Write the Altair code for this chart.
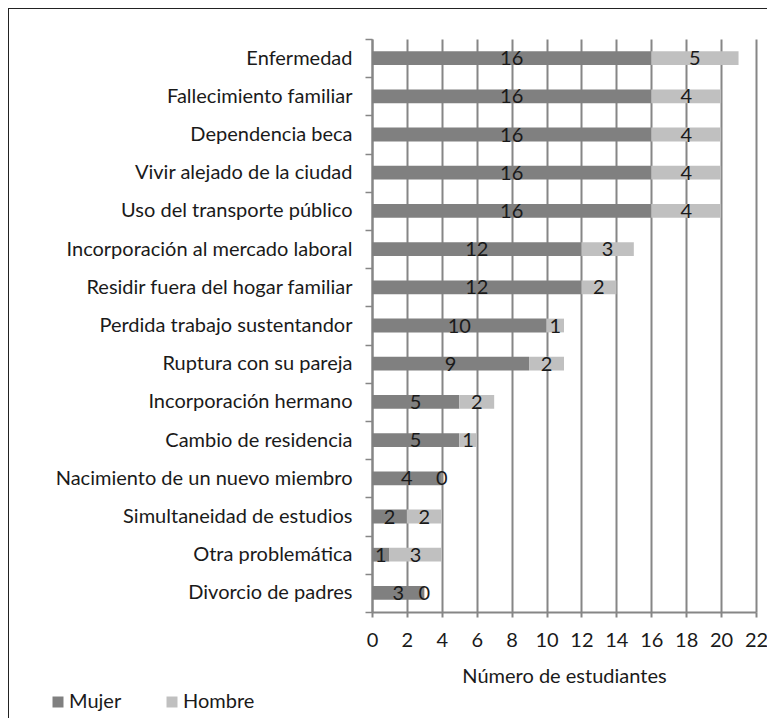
import altair as alt
import pandas as pd

categories = [
    "Enfermedad", "Fallecimiento familiar", "Dependencia beca",
    "Vivir alejado de la ciudad", "Uso del transporte público",
    "Incorporación al mercado laboral", "Residir fuera del hogar familiar",
    "Perdida trabajo sustentandor", "Ruptura con su pareja",
    "Incorporación hermano", "Cambio de residencia",
    "Nacimiento de un nuevo miembro", "Simultaneidad de estudios",
    "Otra problemática", "Divorcio de padres",
]
mujer = [16, 16, 16, 16, 16, 12, 12, 10, 9, 5, 5, 4, 2, 1, 3]
hombre = [5, 4, 4, 4, 4, 3, 2, 1, 2, 2, 1, 0, 2, 3, 0]
series = ["Mujer", "Hombre"]
x_ticks = list(range(0, 23, 2))

rows = []
for c, m, h in zip(categories, mujer, hombre):
    rows.append({"cat": c, "sexo": "Mujer", "ord": 0, "value": m})
    rows.append({"cat": c, "sexo": "Hombre", "ord": 1, "value": h})
df = pd.DataFrame(rows)

FONT = "Lato"
FS = 20
GRID = "#868686"
TXT = "#1a1a1a"
LEFT = 364

base = alt.Chart(df).transform_stack(
    stack="value", groupby=["cat"], as_=["x0", "x1"],
    sort=[alt.SortField("ord", order="ascending")],
).transform_calculate(mid="(datum.x0 + datum.x1) / 2")

y_axis = alt.Axis(
    tickBand="extent", tickSize=7, tickColor=GRID, tickWidth=1.5,
    domainColor=GRID, domainWidth=2, labelPadding=13,
    labelFont=FONT, labelFontSize=FS, labelColor=TXT,
    labelLimit=400,
)
y_scale = alt.Scale(paddingInner=0, paddingOuter=0)
x_axis = alt.Axis(
    values=x_ticks, grid=True, gridColor=GRID, gridWidth=2,
    domainColor=GRID, domainWidth=2, tickColor=GRID, tickWidth=2,
    tickSize=5, labelPadding=13, labelFont=FONT, labelFontSize=FS,
    labelOverlap=False, labelFlush=False,
    labelColor=TXT, titleFont=FONT, titleFontSize=FS,
    titleFontWeight="normal", titleColor=TXT, titlePadding=16,
)
x_scale = alt.Scale(domain=[0, 22], nice=False)
X_TITLE = "Número de estudiantes"

bars = base.mark_bar(height=alt.RelativeBandSize(0.36)).encode(
    y=alt.Y("cat:N", sort=categories, title=None, scale=y_scale, axis=y_axis),
    x=alt.X("x0:Q", title=X_TITLE, scale=x_scale, axis=x_axis),
    x2="x1:Q",
    color=alt.Color(
        "sexo:N", title=None,
        scale=alt.Scale(domain=series, range=["#808080", "#c0c0c0"]),
        legend=alt.Legend(
            orient="none", legendX=-324, legendY=653, direction="horizontal",
            symbolType="square", symbolSize=121, symbolStrokeWidth=0,
            labelFont=FONT, labelFontSize=FS, labelColor=TXT,
            labelOffset=1, columnPadding=40, padding=0,
        ),
    ),
    order=alt.Order("ord:Q"),
)

labels = base.mark_text(font=FONT, fontSize=FS, color=TXT, baseline="middle", dy=1).encode(
    y=alt.Y("cat:N", sort=categories, title=None, scale=y_scale, axis=y_axis),
    x=alt.X("mid:Q", title=X_TITLE, scale=x_scale, axis=x_axis),
    text=alt.Text("value:Q"),
)

frame = alt.Chart(alt.Data(values=[{}])).mark_rect(
    fill=None, stroke="#222222", strokeWidth=2
).encode(
    x=alt.value(-LEFT), x2=alt.value(420),
    y=alt.value(-31), y2=alt.value(700),
)

chart = alt.layer(bars, labels, frame).properties(
    width=384, height=573,
    autosize=alt.AutoSizeParams(type="none"),
    padding={"left": LEFT, "top": 31, "right": 11, "bottom": 106},
).configure_view(stroke=None)

chart.save("out.html", embed_options={"renderer": "svg", "actions": False})
